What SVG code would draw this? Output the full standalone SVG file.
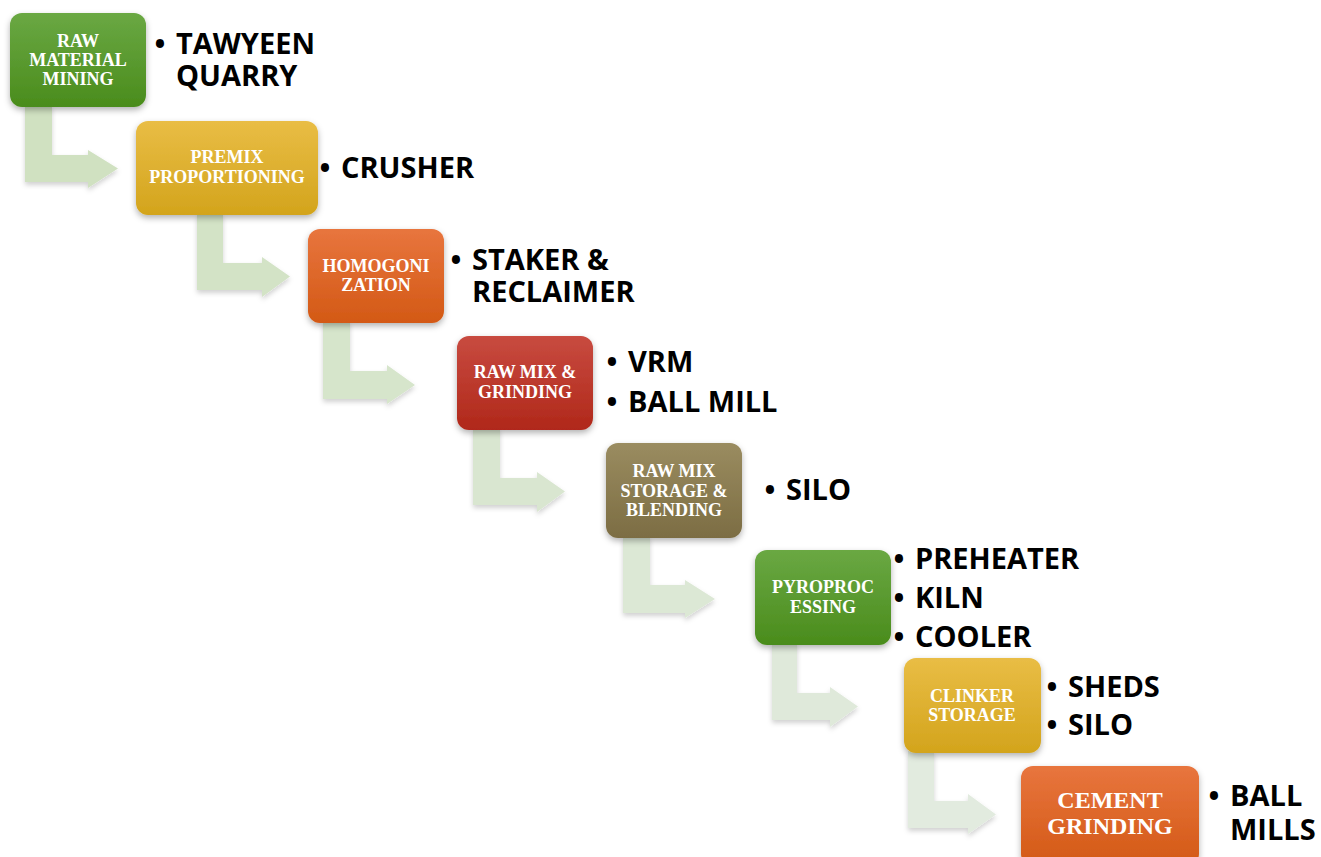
<svg xmlns="http://www.w3.org/2000/svg" width="1321" height="857" viewBox="0 0 1321 857">
<defs>
<linearGradient id="gGreen" x1="0" y1="0" x2="0" y2="1"><stop offset="0" stop-color="#6aa843"/><stop offset="1" stop-color="#4a8c1c"/></linearGradient>
<linearGradient id="gGold" x1="0" y1="0" x2="0" y2="1"><stop offset="0" stop-color="#e9bd45"/><stop offset="1" stop-color="#d3a41c"/></linearGradient>
<linearGradient id="gOrange" x1="0" y1="0" x2="0" y2="1"><stop offset="0" stop-color="#e8753e"/><stop offset="1" stop-color="#d35915"/></linearGradient>
<linearGradient id="gRed" x1="0" y1="0" x2="0" y2="1"><stop offset="0" stop-color="#c84b40"/><stop offset="1" stop-color="#b0281a"/></linearGradient>
<linearGradient id="gOlive" x1="0" y1="0" x2="0" y2="1"><stop offset="0" stop-color="#9a8c60"/><stop offset="1" stop-color="#7c6d43"/></linearGradient>
<filter id="sh" x="-20%" y="-20%" width="140%" height="150%"><feDropShadow dx="0" dy="3" stdDeviation="3" flood-color="#000" flood-opacity="0.3"/></filter>
<filter id="shA" x="-20%" y="-20%" width="140%" height="150%"><feDropShadow dx="0" dy="3" stdDeviation="2.5" flood-color="#000" flood-opacity="0.18"/></filter>
</defs>
<style>
.box{filter:url(#sh)}
.lbl{font-family:"Liberation Serif","Times New Roman",serif;font-weight:bold;font-size:18px;fill:#ffffff;text-anchor:middle}
.big{font-size:24px}
.bt{font-family:"Open Sans","DejaVu Sans",sans-serif;font-weight:bold;font-size:29px;fill:#000000}
.bul{text-anchor:middle}
.arr{filter:url(#shA)}
</style>
<rect width="1321" height="857" fill="#ffffff"/>
<g id="connectors">
<path class="arr" fill="#d0e1c1" d="M25,105 H52 V155 H88 V150 L118,168.5 L88,188 V182 H25 Z"/>
<path class="arr" fill="#d3e3c6" d="M197,213 H223 V263 H262 V257 L290,276.5 L262,297 V290 H197 Z"/>
<path class="arr" fill="#d6e5cb" d="M323,321 H350 V371 H387 V365 L415,385 L387,404 V399 H323 Z"/>
<path class="arr" fill="#d9e6d0" d="M473,428 H500 V478 H537 V472 L565,491.5 L537,512 V505 H473 Z"/>
<path class="arr" fill="#dce8d5" d="M623,536 H650 V585 H685 V580 L715,599 L685,618 V613 H623 Z"/>
<path class="arr" fill="#dfe9da" d="M772,643 H797 V693 H830 V687 L858,706.5 L830,727 V720 H772 Z"/>
<path class="arr" fill="#e2ebdf" d="M908,751 H934 V801 H968 V794 L996,814.5 L968,834 V828 H908 Z"/>
</g>
<g id="n1">
<rect class="box" x="10" y="13" width="136" height="94" rx="12" fill="url(#gGreen)"/>
<text class="lbl" x="78" y="47">RAW</text>
<text class="lbl" x="78" y="66">MATERIAL</text>
<text class="lbl" x="78" y="85">MINING</text>
<text class="bt bul" x="160" y="54">•</text>
<text class="bt" x="176" y="54">TAWYEEN</text>
<text class="bt" x="176" y="86">QUARRY</text>
</g>
<g id="n2">
<rect class="box" x="136" y="121" width="182" height="94" rx="12" fill="url(#gGold)"/>
<text class="lbl" x="227" y="163">PREMIX</text>
<text class="lbl" x="227" y="183">PROPORTIONING</text>
<text class="bt bul" x="325" y="178">•</text>
<text class="bt" x="341" y="178">CRUSHER</text>
</g>
<g id="n3">
<rect class="box" x="308" y="229" width="136" height="94" rx="12" fill="url(#gOrange)"/>
<text class="lbl" x="376" y="272">HOMOGONI</text>
<text class="lbl" x="376" y="291">ZATION</text>
<text class="bt bul" x="456" y="270">•</text>
<text class="bt" x="472" y="270">STAKER &amp;</text>
<text class="bt" x="472" y="302">RECLAIMER</text>
</g>
<g id="n4">
<rect class="box" x="457" y="336" width="136" height="94" rx="12" fill="url(#gRed)"/>
<text class="lbl" x="525" y="378">RAW MIX &amp;</text>
<text class="lbl" x="525" y="398">GRINDING</text>
<text class="bt bul" x="612" y="372">•</text>
<text class="bt" x="628" y="372">VRM</text>
<text class="bt bul" x="612" y="412">•</text>
<text class="bt" x="628" y="412">BALL MILL</text>
</g>
<g id="n5">
<rect class="box" x="606" y="443" width="136" height="95" rx="12" fill="url(#gOlive)"/>
<text class="lbl" x="674" y="477">RAW MIX</text>
<text class="lbl" x="674" y="497">STORAGE &amp;</text>
<text class="lbl" x="674" y="516">BLENDING</text>
<text class="bt bul" x="770" y="500">•</text>
<text class="bt" x="786" y="500">SILO</text>
</g>
<g id="n6">
<rect class="box" x="755" y="550" width="136" height="95" rx="12" fill="url(#gGreen)"/>
<text class="lbl" x="823" y="593">PYROPROC</text>
<text class="lbl" x="823" y="613">ESSING</text>
<text class="bt bul" x="899" y="569">•</text>
<text class="bt" x="915" y="569">PREHEATER</text>
<text class="bt bul" x="899" y="608">•</text>
<text class="bt" x="915" y="608">KILN</text>
<text class="bt bul" x="899" y="647">•</text>
<text class="bt" x="915" y="647">COOLER</text>
</g>
<g id="n7">
<rect class="box" x="904" y="658" width="137" height="95" rx="12" fill="url(#gGold)"/>
<text class="lbl" x="972" y="702">CLINKER</text>
<text class="lbl" x="972" y="721">STORAGE</text>
<text class="bt bul" x="1052" y="697">•</text>
<text class="bt" x="1068" y="697">SHEDS</text>
<text class="bt bul" x="1052" y="735">•</text>
<text class="bt" x="1068" y="735">SILO</text>
</g>
<g id="n8">
<rect class="box" x="1021" y="766" width="178" height="100" rx="12" fill="url(#gOrange)"/>
<text class="lbl big" x="1110" y="808">CEMENT</text>
<text class="lbl big" x="1110" y="834">GRINDING</text>
<text class="bt bul" x="1214" y="806">•</text>
<text class="bt" x="1230" y="806">BALL</text>
<text class="bt" x="1230" y="840">MILLS</text>
</g>
</svg>
